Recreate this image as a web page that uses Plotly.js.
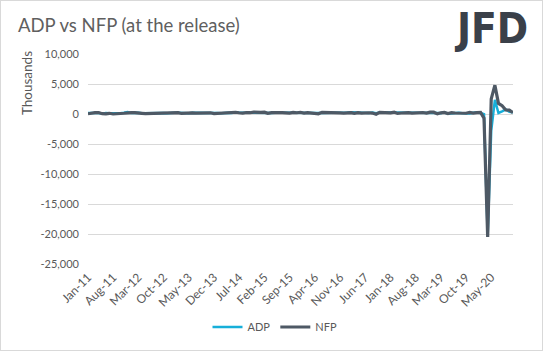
<!DOCTYPE html>
<html>
<head>
<meta charset="utf-8">
<script src="https://cdn.plot.ly/plotly-3.0.1.min.js"></script>
<style>
html,body{margin:0;padding:0;background:#fff;}
#wrap{position:relative;width:543px;height:351px;}
#chart{width:543px;height:351px;}
#frame{position:absolute;left:0;top:0;width:541px;height:349px;border:1px solid #d9d9d9;pointer-events:none;}
</style>
</head>
<body>
<div id="wrap"><div id="chart"></div><div id="frame"></div></div>
<script>
// Monthly values (thousands), Jan-2011 .. Nov-2020, as first released
const startYear = 2011;
const nfp = [
  36,192,216,244,54,18,117,0,103,80,120,200,
  243,227,120,115,69,80,163,96,114,171,146,155,
  157,236,88,165,175,195,162,169,148,204,203,74,
  113,175,192,288,217,288,209,142,248,214,321,252,
  257,295,126,223,280,223,215,173,142,271,211,292,
  151,242,215,160,38,287,255,151,156,161,178,156,
  227,235,98,211,138,222,209,156,-33,261,228,148,
  200,313,103,164,223,213,157,201,134,250,155,312,
  304,20,196,263,75,224,164,130,136,128,266,145,
  225,273,-701,-20500,2509,4800,1763,1371,661,638,245
];
const adp = [
  187,217,201,179,38,157,114,91,91,110,206,325,
  170,216,209,119,133,176,163,201,162,158,118,215,
  192,198,158,119,135,188,200,176,166,130,215,238,
  175,139,191,220,179,281,218,204,213,230,208,241,
  213,212,189,169,201,237,185,190,200,182,217,257,
  205,214,200,156,173,172,179,177,154,147,216,153,
  246,298,263,177,253,158,178,237,135,235,190,250,
  234,235,241,204,178,177,219,163,230,227,179,271,
  213,183,129,275,27,102,156,195,135,125,67,202,
  291,183,-27,-20236,-2760,2369,167,428,749,365,307
];
const yTickVals = [10000,5000,0,-5000,-10000,-15000,-20000,-25000];
const yTickText = ["10,000","5,000","0","-5,000","-10,000","-15,000","-20,000","-25,000"];
const xTickLabels = ["Jan-11","Aug-11","Mar-12","Oct-12","May-13","Dec-13","Jul-14","Feb-15","Sep-15","Apr-16","Nov-16","Jun-17","Jan-18","Aug-18","Mar-19","Oct-19","May-20"];

function monthDate(i){
  const y = startYear + Math.floor(i/12);
  const m = (i % 12) + 1;
  return y + "-" + String(m).padStart(2,"0") + "-01";
}
const dates = nfp.map((_, i) => monthDate(i));
const xTickVals = xTickLabels.map((_, k) => monthDate(k*7));

const traces = [
  {x: dates, y: adp, name: "ADP", type: "scatter", mode: "lines",
   line: {color: "#17afd9", width: 2.5}},
  {x: dates, y: nfp, name: "NFP", type: "scatter", mode: "lines",
   line: {color: "#4e5965", width: 3.2}}
];

const layout = {
  width: 543, height: 351,
  margin: {l: 88, r: 30, t: 54, b: 87, autoexpand: false},
  paper_bgcolor: "#fff", plot_bgcolor: "#fff",
  font: {family: "Lato, sans-serif", color: "#595959", size: 11},
  showlegend: true,
  legend: {orientation: "h", x: 0.44, xanchor: "center", y: -0.3, yanchor: "middle",
           font: {size: 11, color: "#595959"}, traceorder: "normal"},
  xaxis: {
    type: "date", range: [dates[0], dates[dates.length-1]],
    tickvals: xTickVals, ticktext: xTickLabels, tickangle: -45,
    showgrid: false, zeroline: false, showline: false,
    ticks: "", ticklabelstandoff: 3, tickfont: {size: 12, color: "#595959"}
  },
  yaxis: {
    range: [-25000, 10000], tickvals: yTickVals, ticktext: yTickText,
    showgrid: true, gridcolor: "#d9d9d9", gridwidth: 1,
    zeroline: false, showline: false, ticks: "", ticklen: 0,
    ticklabelstandoff: 8,
    tickfont: {size: 11, color: "#595959"}
  },
  annotations: [
    {text: "ADP vs NFP (at the release)", xref: "paper", yref: "paper",
     x: -0.17, y: 1.138, xanchor: "left", yanchor: "middle", showarrow: false,
     font: {size: 18.5, color: "#5f5f5f", family: "Lato, sans-serif"}},
    {text: "Thousands", xref: "paper", yref: "paper", x: -0.142, y: 0.86,
     xanchor: "center", yanchor: "middle", textangle: -90, showarrow: false,
     font: {size: 13.5, color: "#595959"}},
    {text: "<b>JFD</b>", xref: "paper", yref: "paper", x: 1.04, y: 1.12,
     xanchor: "right", yanchor: "middle", showarrow: false,
     font: {size: 42, color: "#3a4049", family: "DejaVu Sans Condensed, sans-serif"}}
  ]
};

Plotly.newPlot("chart", traces, layout, {displayModeBar: false, staticPlot: true});
</script>
</body>
</html>
